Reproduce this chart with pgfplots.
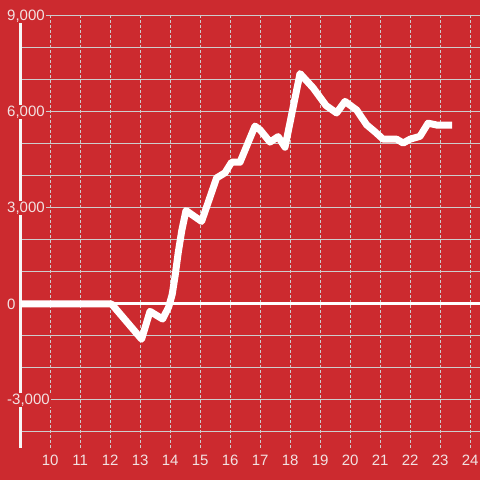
\documentclass[border=0pt]{standalone}
\usepackage{pgfplots}
\pgfplotsset{compat=1.18}
\usepackage{fontspec}
\setmainfont{Liberation Sans}
\definecolor{bgred}{RGB}{204,42,47}
\definecolor{gridc}{RGB}{205,205,205}
\definecolor{lab}{RGB}{242,226,226}
\begin{document}
\begin{tikzpicture}
\fill[bgred] (-21pt,-32pt) rectangle (459pt,448pt);
\begin{axis}[
  at={(0,0)}, anchor=south west,
  scale only axis, width=459pt, height=432pt,
  xmin=9.03, xmax=24.33, ymin=-4500, ymax=9000,
  axis x line*=bottom, axis y line*=left,
  x axis line style={draw=none},
  y axis line style={line width=3pt, draw=white!94!gray},
  xtick={10,...,24},
  ytick={-3000,0,3000,6000,9000},
  yticklabels={{-3,000},{0},{3,000},{6,000},{9,000}},
  minor ytick={-4000,-2000,-1000,1000,2000,4000,5000,7000,8000},
  major tick length=0pt, minor tick length=0pt,
  xmajorgrids, ymajorgrids, yminorgrids,
  x grid style={gridc, dash pattern=on 3pt off 2pt, line width=1pt},
  y grid style={gridc, line width=1pt},
  minor y grid style={gridc, line width=1pt},
  tick label style={font=\fontsize{15}{18}\selectfont, text=lab},
  xticklabel style={anchor=center, yshift=-12pt},
  yticklabel style={anchor=west, xshift=-15pt, fill=bgred, inner sep=1pt},
  /pgf/number format/assume math mode=true,
]
\addplot[white, line width=3pt, forget plot] coordinates {(9.03,0) (24.4,0)};
\addplot[white, line width=7pt, line join=round] coordinates {
(9.0,0) (12.05,0) (13.05,-1100) (13.33,-230) (13.75,-470) (13.95,-100)
(14.07,300) (14.17,900) (14.27,1600) (14.39,2300) (14.53,2920)
(15.05,2580) (15.55,3940) (15.83,4100) (16.05,4430) (16.33,4430)
(16.83,5560) (17.0,5440) (17.33,5060) (17.6,5230) (17.83,4900)
(18.33,7200) (18.77,6750) (19.2,6200) (19.55,5970) (19.83,6330)
(20.22,6060) (20.55,5600) (20.83,5380) (21.1,5150) (21.55,5150)
(21.77,5030) (22.0,5150) (22.33,5240) (22.6,5650) (22.9,5590) (23.4,5590)
};
\end{axis}
\pgfresetboundingbox
\path[use as bounding box] (-21pt,-32pt) rectangle (459pt,448pt);
\end{tikzpicture}
\end{document}
